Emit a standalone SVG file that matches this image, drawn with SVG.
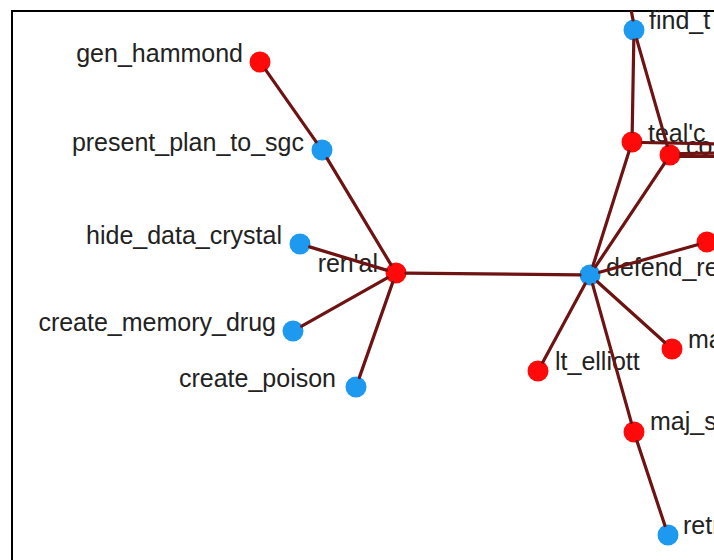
<svg xmlns="http://www.w3.org/2000/svg" width="714" height="560" viewBox="0 0 714 560">
<style>
.edge{stroke:#6e1212;stroke-width:3.2;fill:none;stroke-linecap:round}
.red{fill:#ff0a0a}
.blue{fill:#1d9af0}
text{font-family:"Liberation Sans",Arial,sans-serif;font-size:25px;fill:#222}
.l{text-anchor:end}
</style>
<rect x="0" y="0" width="714" height="560" fill="#fff"/>
<path d="M12,560 V11 H714" stroke="#000" stroke-width="2" fill="none"/>
<g id="n-gen_hammond"><circle class="red" cx="260" cy="62" r="10.5"/><text class="l" x="243" y="62">gen_hammond</text></g>
<g id="n-present_plan_to_sgc"><circle class="blue" cx="322" cy="150" r="10.5"/><text class="l" x="304" y="151">present_plan_to_sgc</text></g>
<g id="n-hide_data_crystal"><circle class="blue" cx="300" cy="244" r="10.5"/><text class="l" x="282" y="244">hide_data_crystal</text></g>
<g id="n-renal"><circle class="red" cx="396" cy="273" r="10.5"/><text class="l" x="378" y="272">ren'al</text></g>
<g id="n-create_memory_drug"><circle class="blue" cx="293" cy="331" r="10.5"/><text class="l" x="276" y="331">create_memory_drug</text></g>
<g id="n-create_poison"><circle class="blue" cx="356" cy="387" r="10.5"/><text class="l" x="336" y="387">create_poison</text></g>
<g id="n-defend"><circle class="blue" cx="590" cy="275" r="10.5"/><text x="606" y="276">defend_re</text></g>
<g id="n-lt_elliott"><circle class="red" cx="538" cy="371" r="10.5"/><text x="555" y="370">lt_elliott</text></g>
<g id="n-ma"><circle class="red" cx="672" cy="349" r="10.5"/><text x="688" y="348">ma</text></g>
<g id="n-maj_s"><circle class="red" cx="634" cy="432" r="10.5"/><text x="650" y="430">maj_s</text></g>
<g id="n-retr"><circle class="blue" cx="668" cy="535" r="10.5"/><text x="683" y="534">retr</text></g>
<g id="n-find_t"><circle class="blue" cx="634" cy="30" r="10.5"/><text x="649" y="29">find_t</text></g>
<g id="n-tealc"><circle class="red" cx="632" cy="142" r="10.5"/><text x="648" y="142">teal'c</text></g>
<g id="n-co"><circle class="red" cx="670" cy="155" r="10.5"/><text x="686" y="155">co</text></g>
<g id="n-right"><circle class="red" cx="707" cy="242" r="10.5"/></g>
<g id="connectors">
<line class="edge" x1="265.8" y1="70.2" x2="316.2" y2="141.8"/>
<line class="edge" x1="327.2" y1="158.6" x2="390.8" y2="264.4"/>
<line class="edge" x1="309.6" y1="246.9" x2="386.4" y2="270.1"/>
<line class="edge" x1="301.7" y1="326.1" x2="387.3" y2="277.9"/>
<line class="edge" x1="359.3" y1="377.6" x2="392.7" y2="282.4"/>
<line class="edge" x1="406" y1="273.1" x2="580" y2="274.9"/>
<line class="edge" x1="593" y1="265.5" x2="629" y2="151.5"/>
<line class="edge" x1="595.5" y1="266.7" x2="664.5" y2="163.3"/>
<line class="edge" x1="599.6" y1="272.3" x2="697.4" y2="244.7"/>
<line class="edge" x1="597.4" y1="281.7" x2="664.6" y2="342.3"/>
<line class="edge" x1="585.2" y1="283.8" x2="542.8" y2="362.2"/>
<line class="edge" x1="592.7" y1="284.6" x2="631.3" y2="422.4"/>
<line class="edge" x1="637.1" y1="441.5" x2="664.9" y2="525.5"/>
<line class="edge" x1="633.8" y1="40" x2="632.2" y2="132"/>
<line class="edge" x1="636.8" y1="39.6" x2="667.2" y2="145.4"/>
<line class="edge" x1="633" y1="20" x2="631.5" y2="12"/>
<line class="edge" x1="642.5" y1="142.5" x2="716" y2="144"/>
<line class="edge" x1="680.5" y1="153.5" x2="716" y2="153"/>
<line class="edge" x1="680.5" y1="156.5" x2="716" y2="156.5"/>
</g>
</svg>
